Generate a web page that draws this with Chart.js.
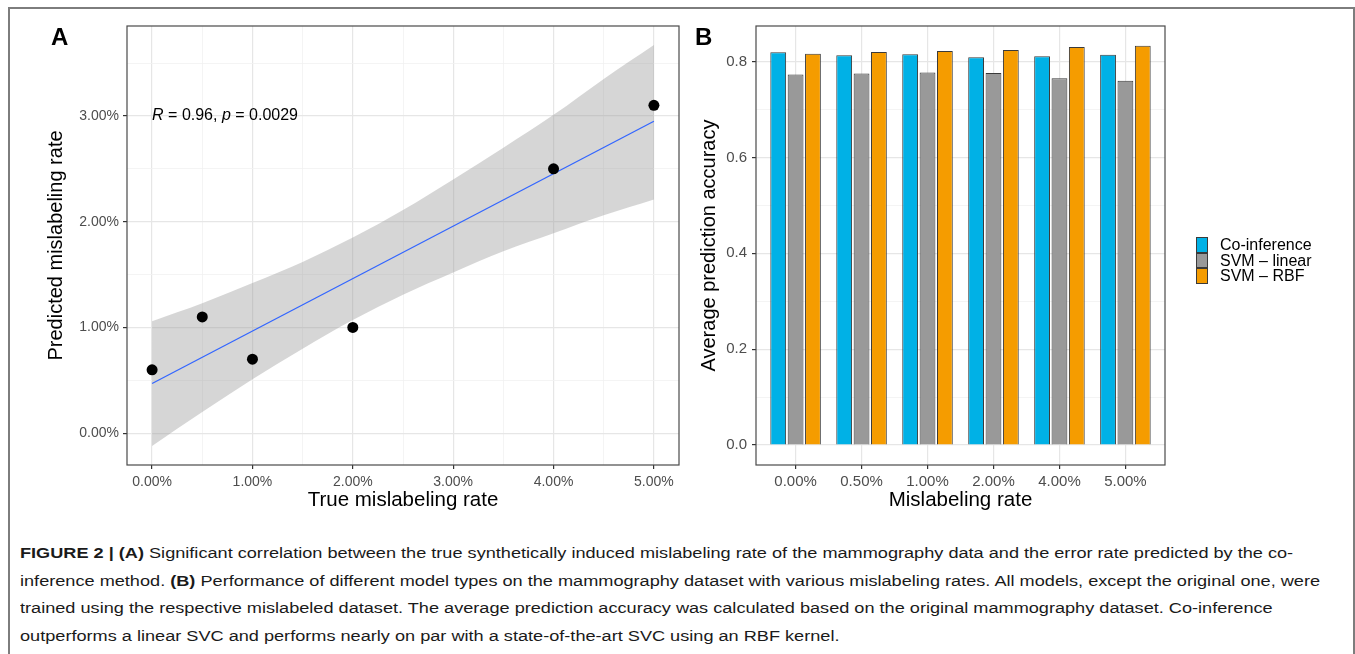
<!DOCTYPE html>
<html>
<head>
<meta charset="utf-8">
<script src="https://cdn.jsdelivr.net/npm/chart.js@4.4.1/dist/chart.umd.min.js"></script>
<style>
  body { margin: 0; background: #fff; font-family: "Liberation Sans", Arial, Helvetica, sans-serif; }
  #page { position: relative; width: 1355px; height: 654px; overflow: hidden; background: #fff; }
  #frame { position: absolute; left: 8px; top: 7px; width: 1347px; height: 700px; border: 2px solid #7d7d7d; border-bottom: none; box-sizing: border-box; }
  canvas { position: absolute; top: 0; }
  #chartA { left: 0; }
  #chartB { left: 685px; }
  .panel-tag { position: absolute; font-weight: bold; font-size: 24px; color: #000; line-height: 1; }
  #legend { position: absolute; left: 1196px; top: 237px; font-size: 16px; color: #000; }
  #legend .item { height: 15.5px; line-height: 15.5px; white-space: nowrap; }
  #legend .key { display: inline-block; width: 12px; height: 15.5px; box-sizing: border-box; border: 1px solid #3a3a3a; vertical-align: top; margin-right: 12px; }
  #caption { position: absolute; left: 20px; top: 539px; font-size: 15.5px; line-height: 27.5px; color: #1a1a1a; white-space: nowrap; transform: scaleX(1.17); transform-origin: 0 0; }
</style>
</head>
<body>
<div id="page">
  <div id="frame"></div>
  <canvas id="chartA" width="685" height="530"></canvas>
  <canvas id="chartB" width="515" height="530"></canvas>
  <div class="panel-tag" style="left:51px; top:25px;">A</div>
  <div class="panel-tag" style="left:695px; top:25px;">B</div>
  <div id="legend"></div>
  <div id="caption">
    <b>FIGURE 2 | (A)</b> Significant correlation between the true synthetically induced mislabeling rate of the mammography data and the error rate predicted by the co-<br>
    inference method. <b>(B)</b> Performance of different model types on the mammography dataset with various mislabeling rates. All models, except the original one, were<br>
    trained using the respective mislabeled dataset. The average prediction accuracy was calculated based on the original mammography dataset. Co-inference<br>
    outperforms a linear SVC and performs nearly on par with a state-of-the-art SVC using an RBF kernel.
  </div>
</div>
<script>
// Panel A: true vs predicted mislabeling rate (in %)
const trueRate = [0, 0.5, 1, 2, 4, 5];
const predictedRate = [0.6, 1.1, 0.7, 1.0, 2.5, 3.1];
const fitX = [0, 5];
const fitY = [0.47, 2.95];
const bandX = [0, 0.5, 1, 1.5, 2, 2.5, 3, 3.5, 4, 4.5, 5];
const bandUpper = [1.06, 1.23, 1.42, 1.62, 1.85, 2.11, 2.40, 2.70, 3.01, 3.35, 3.67];
const bandLower = [-0.12, 0.20, 0.51, 0.80, 1.07, 1.31, 1.52, 1.72, 1.89, 2.06, 2.21];
const xTicksA = [0, 1, 2, 3, 4, 5];
const xTickLabelsA = ["0.00%", "1.00%", "2.00%", "3.00%", "4.00%", "5.00%"];
const xGridA = [0, 0.5, 1, 1.5, 2, 2.5, 3, 3.5, 4, 4.5, 5];
const yTicksA = [0, 1, 2, 3];
const yTickLabelsA = ["0.00%", "1.00%", "2.00%", "3.00%"];
const yGridA = [0, 0.5, 1, 1.5, 2, 2.5, 3, 3.5];
const corrText = ["R", " = 0.96, ", "p", " = 0.0029"];

// Panel B: accuracy per mislabeling rate
const rates = ["0.00%", "0.50%", "1.00%", "2.00%", "4.00%", "5.00%"];
const seriesNames = ["Co-inference", "SVM \u2013 linear", "SVM \u2013 RBF"];
const coInference = [0.819, 0.813, 0.815, 0.809, 0.811, 0.814];
const svmLinear = [0.773, 0.775, 0.777, 0.776, 0.765, 0.760];
const svmRbf = [0.816, 0.820, 0.822, 0.824, 0.830, 0.833];
const yTicksB = [0, 0.2, 0.4, 0.6, 0.8];
const yTickLabelsB = ["0.0", "0.2", "0.4", "0.6", "0.8"];
const yGridB = [0, 0.1, 0.2, 0.3, 0.4, 0.5, 0.6, 0.7, 0.8];

const colors = ["#00B1E6", "#999999", "#F59C00"];
const FONT = '"Liberation Sans", Arial, Helvetica, sans-serif';
Chart.defaults.font.family = FONT;

function isIn(list, v) {
    return list.some(t => Math.abs(t - v) < 1e-9);
}

function labelFrom(ticks, labels, v) {
    const i = ticks.findIndex(t => Math.abs(t - v) < 1e-9);
    return i >= 0 ? labels[i] : "";
}

const panelBox = {
    id: "panelBox",
    afterDraw(chart) {
        const { ctx, chartArea: a } = chart;
        ctx.save();
        ctx.strokeStyle = "#4a4a4a";
        ctx.lineWidth = 1.2;
        ctx.strokeRect(a.left, a.top, a.right - a.left, a.bottom - a.top);
        ctx.restore();
    }
};

const corrLabel = {
    id: "corrLabel",
    afterDatasetsDraw(chart) {
        const { ctx, scales } = chart;
        let x = scales.x.getPixelForValue(0);
        const y = scales.y.getPixelForValue(3.0);
        ctx.save();
        ctx.fillStyle = "#000";
        ctx.textBaseline = "middle";
        corrText.forEach((part, i) => {
            ctx.font = (i % 2 === 0 ? "italic " : "") + "16px " + FONT;
            ctx.fillText(part, x, y);
            x += ctx.measureText(part).width;
        });
        ctx.restore();
    }
};

function gridStyle(majors) {
    return {
        color: c => isIn(majors, c.tick.value) ? "#e6e6e6" : "#f1f1f1",
        lineWidth: c => isIn(majors, c.tick.value) ? 1.2 : 0.8,
        tickColor: c => isIn(majors, c.tick.value) ? "#333333" : "rgba(0,0,0,0)",
        tickWidth: 1.2,
        tickLength: 4
    };
}

new Chart(document.getElementById("chartA"), {
    type: "scatter",
    data: {
        datasets: [
            {
                type: "scatter",
                data: trueRate.map((x, i) => ({ x: x, y: predictedRate[i] })),
                backgroundColor: "#000",
                borderColor: "#000",
                borderWidth: 0,
                pointRadius: 5.5,
                order: 0
            },
            {
                type: "line",
                data: fitX.map((x, i) => ({ x: x, y: fitY[i] })),
                borderColor: "#3366FF",
                borderWidth: 1.3,
                pointRadius: 0,
                showLine: true,
                fill: false,
                order: 1
            },
            {
                type: "line",
                data: bandX.map((x, i) => ({ x: x, y: bandUpper[i] })),
                borderColor: "rgba(0,0,0,0)",
                borderWidth: 0,
                backgroundColor: "rgba(153,153,153,0.4)",
                pointRadius: 0,
                showLine: true,
                cubicInterpolationMode: "monotone",
                fill: "+1",
                order: 2
            },
            {
                type: "line",
                data: bandX.map((x, i) => ({ x: x, y: bandLower[i] })),
                borderColor: "rgba(0,0,0,0)",
                borderWidth: 0,
                pointRadius: 0,
                showLine: true,
                cubicInterpolationMode: "monotone",
                fill: false,
                order: 3
            }
        ]
    },
    options: {
        responsive: false,
        animation: false,
        devicePixelRatio: 1,
        layout: { padding: { left: 0, top: 26, right: 6, bottom: 0 } },
        plugins: { legend: { display: false }, tooltip: { enabled: false } },
        scales: {
            x: {
                type: "linear",
                min: -0.25,
                max: 5.25,
                afterBuildTicks: s => { s.ticks = xGridA.map(v => ({ value: v })); },
                afterFit: s => { s.height = 65; },
                grid: gridStyle(xTicksA),
                border: { display: false },
                ticks: {
                    autoSkip: false, maxRotation: 0, padding: 5,
                    color: "#4d4d4d", font: { size: 14 },
                    callback: v => labelFrom(xTicksA, xTickLabelsA, v)
                },
                title: { display: true, text: "True mislabeling rate", color: "#000", font: { size: 20.5 }, padding: { top: 0, bottom: 17 } }
            },
            y: {
                type: "linear",
                min: -0.30,
                max: 3.85,
                afterBuildTicks: s => { s.ticks = yGridA.map(v => ({ value: v })); },
                afterFit: s => { s.width = 127; },
                grid: gridStyle(yTicksA),
                border: { display: false },
                ticks: {
                    autoSkip: false, padding: 4,
                    color: "#4d4d4d", font: { size: 14 },
                    callback: v => labelFrom(yTicksA, yTickLabelsA, v)
                },
                title: { display: true, text: "Predicted mislabeling rate", color: "#000", font: { size: 20 }, padding: { top: 44, bottom: 0 } }
            }
        }
    },
    plugins: [panelBox, corrLabel]
});

const seriesB = [coInference, svmLinear, svmRbf];

new Chart(document.getElementById("chartB"), {
    type: "bar",
    data: {
        datasets: seriesB.map((vals, k) => ({
            label: seriesNames[k],
            data: vals.map((v, i) => ({ x: i, y: v })),
            backgroundColor: colors[k],
            borderColor: "#3a3a3a",
            borderWidth: 1,
            categoryPercentage: 0.79,
            barPercentage: 0.91
        }))
    },
    options: {
        responsive: false,
        animation: false,
        devicePixelRatio: 1,
        layout: { padding: { left: 0, top: 26, right: 35, bottom: 0 } },
        plugins: { legend: { display: false }, tooltip: { enabled: false } },
        scales: {
            x: {
                type: "linear",
                offset: false,
                min: -0.6,
                max: 5.6,
                afterBuildTicks: s => { s.ticks = rates.map((r, i) => ({ value: i })); },
                afterFit: s => { s.height = 65; },
                grid: { offset: false, color: "#e6e6e6", lineWidth: 1.2, tickColor: "#333333", tickWidth: 1.2, tickLength: 4 },
                border: { display: false },
                ticks: {
                    autoSkip: false, maxRotation: 0, padding: 4,
                    color: "#4d4d4d", font: { size: 15 },
                    callback: v => rates[Math.round(v)] || ""
                },
                title: { display: true, text: "Mislabeling rate", color: "#000", font: { size: 20.5 }, padding: { top: 0, bottom: 17 } }
            },
            y: {
                type: "linear",
                min: -0.0416,
                max: 0.874,
                afterBuildTicks: s => { s.ticks = yGridB.map(v => ({ value: v })); },
                afterFit: s => { s.width = 71; },
                grid: gridStyle(yTicksB),
                border: { display: false },
                ticks: {
                    autoSkip: false, padding: 5,
                    color: "#4d4d4d", font: { size: 15 },
                    callback: v => labelFrom(yTicksB, yTickLabelsB, v)
                },
                title: { display: true, text: "Average prediction accuracy", color: "#000", font: { size: 20 }, padding: { top: 12, bottom: 0 } }
            }
        }
    },
    plugins: [panelBox]
});

const legend = document.getElementById("legend");
seriesNames.forEach((name, k) => {
    const item = document.createElement("div");
    item.className = "item";
    item.innerHTML = `<span class="key" style="background:${colors[k]}"></span>${name}`;
    legend.appendChild(item);
});
</script>
</body>
</html>
